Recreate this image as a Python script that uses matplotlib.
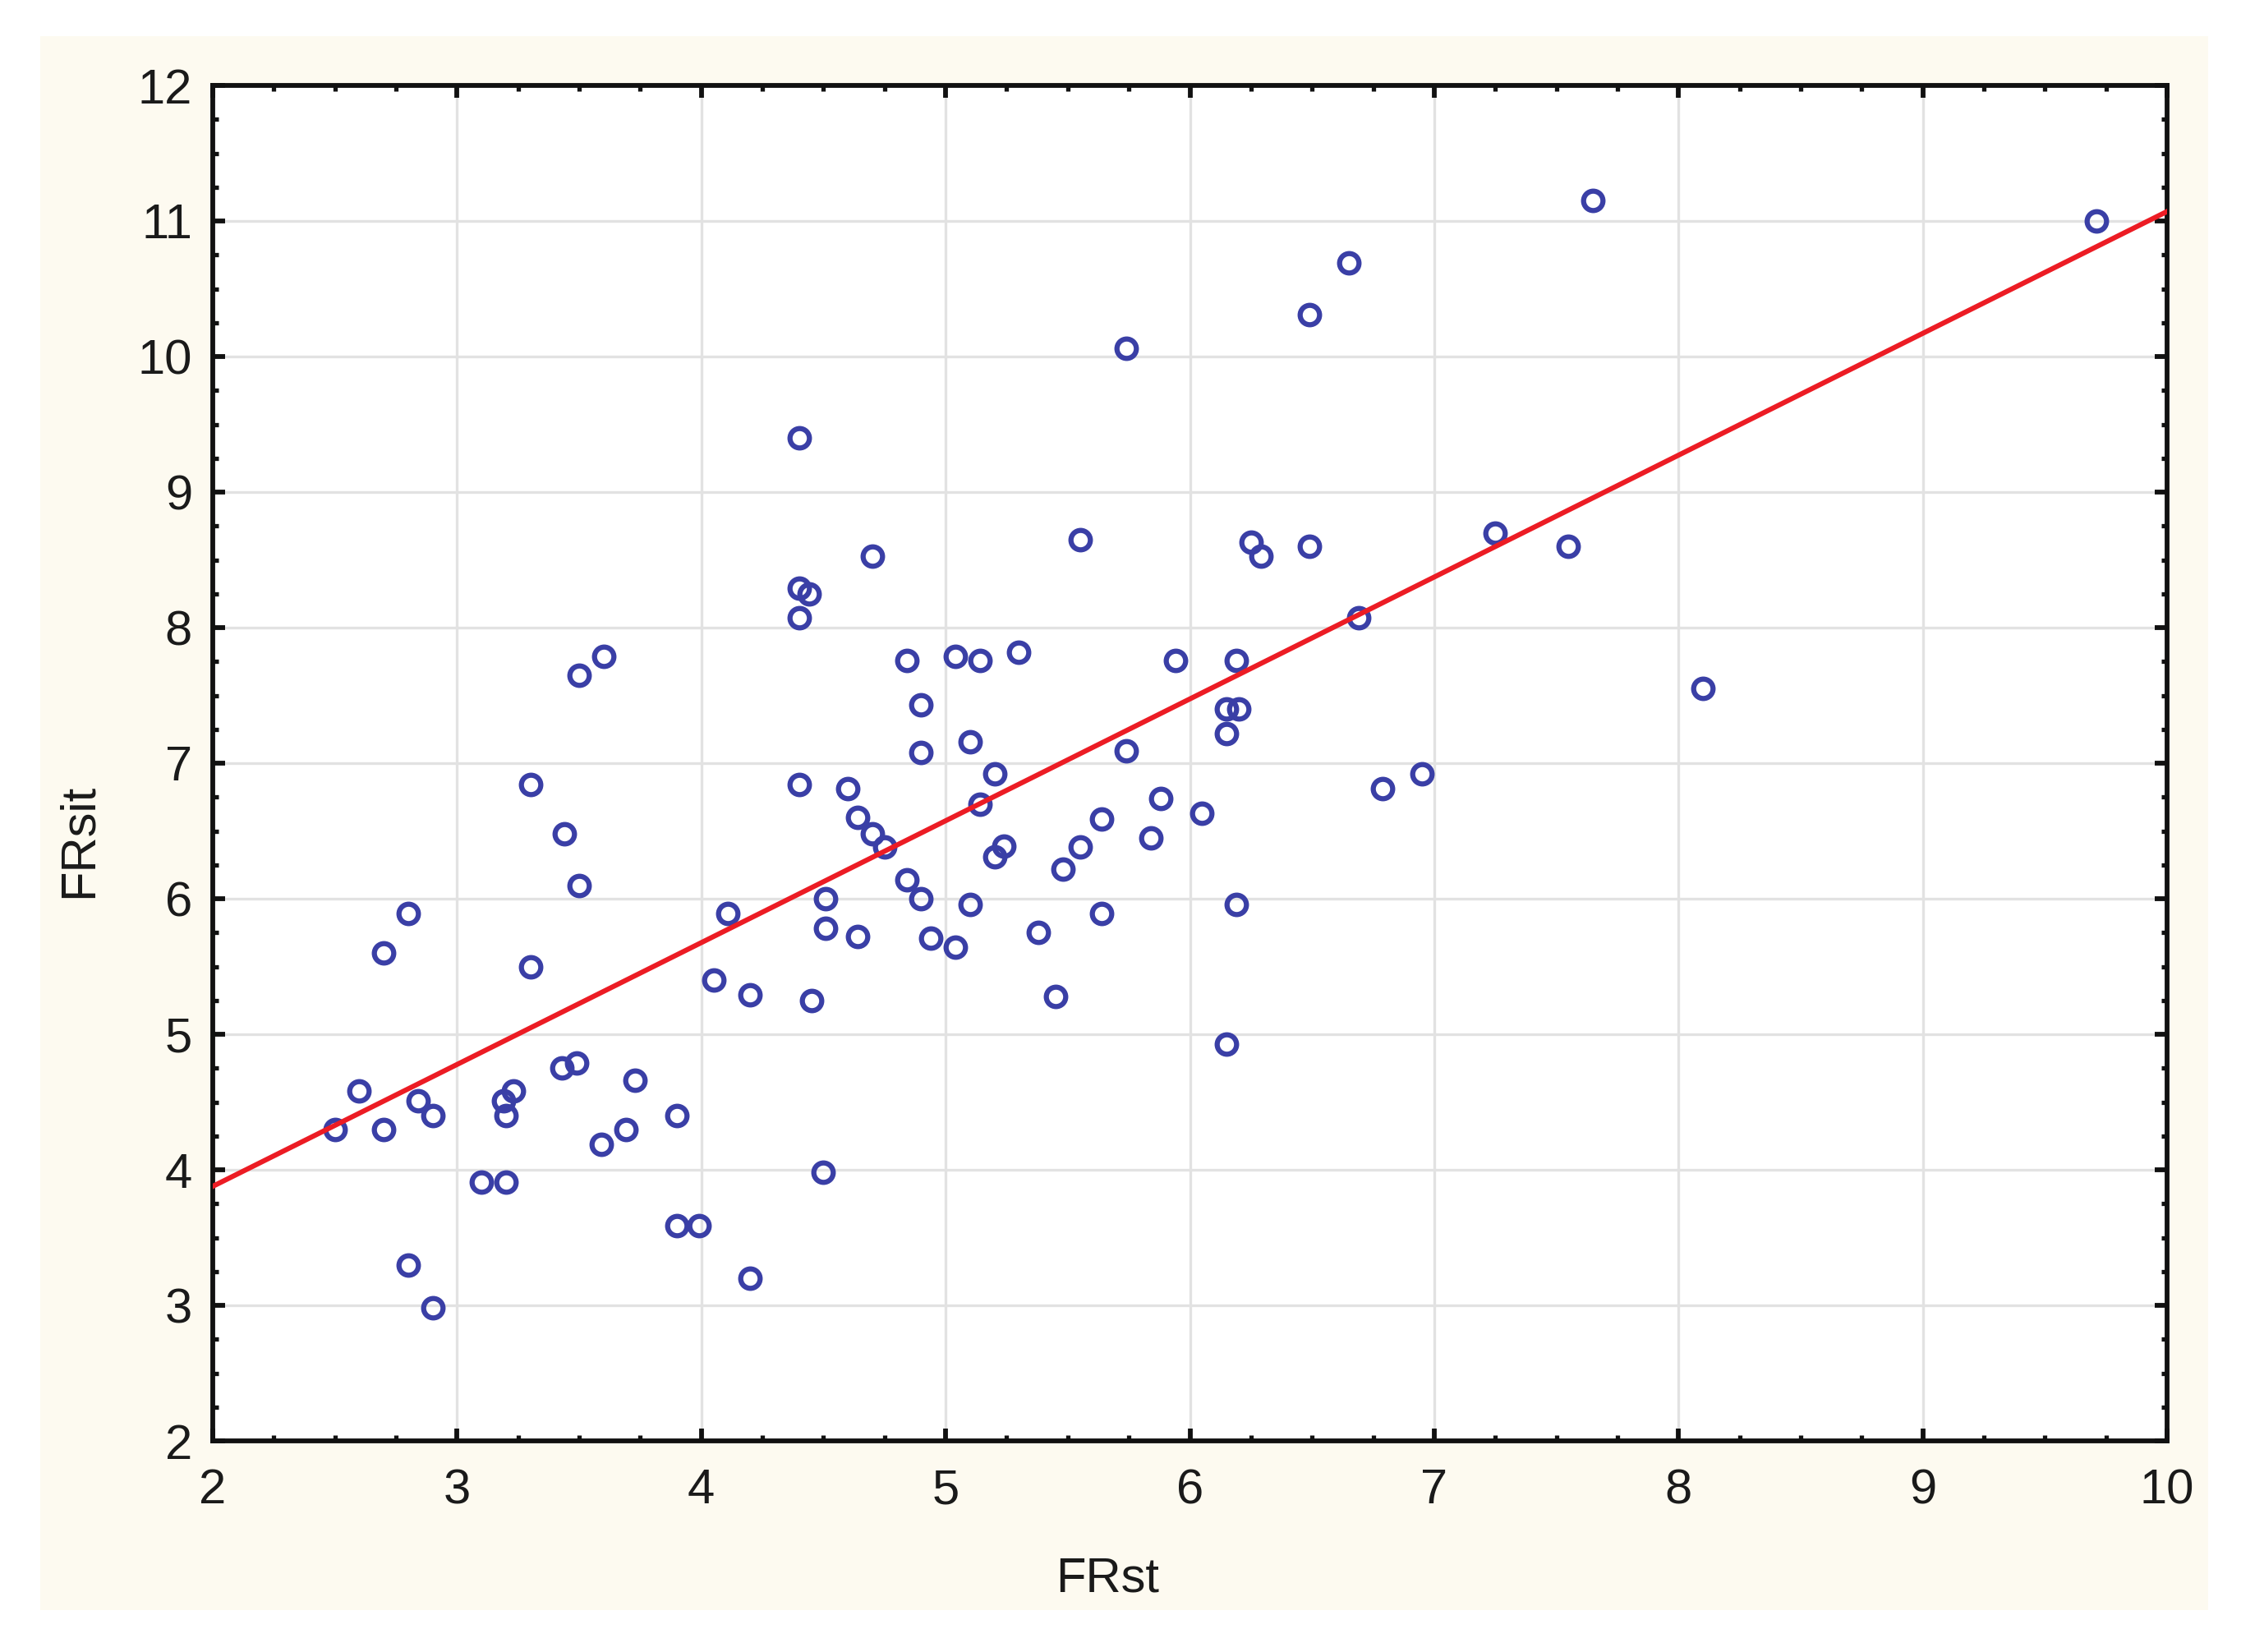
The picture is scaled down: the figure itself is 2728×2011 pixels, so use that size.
import numpy as np
import matplotlib
matplotlib.use("Agg")
import matplotlib.pyplot as plt
from matplotlib.patches import Rectangle
from matplotlib.ticker import MultipleLocator

# values (FRst vs FRsit)
fr_st = [2.5, 2.6, 2.7, 2.7, 2.8, 2.84, 2.9, 2.8, 2.9, 3.1,
         3.2, 3.19, 3.23, 3.2, 3.3, 3.3, 3.44, 3.43, 3.49, 3.5,
         3.5, 3.6, 3.59, 3.69, 3.73, 3.9, 3.9, 3.99, 4.05, 4.11,
         4.2, 4.2, 4.4, 4.4, 4.44, 4.4, 4.4, 4.45, 4.51, 4.51,
         4.5, 4.6, 4.64, 4.7, 4.75, 4.64, 4.7, 4.84, 4.84, 4.9,
         4.9, 4.9, 4.94, 5.04, 5.04, 5.1, 5.1, 5.14, 5.14, 5.2,
         5.2, 5.24, 5.3, 5.38, 5.45, 5.48, 5.55, 5.55, 5.64, 5.64,
         5.74, 5.74, 5.84, 5.88, 5.94, 6.05, 6.15, 6.2, 6.15, 6.19,
         6.19, 6.15, 6.25, 6.29, 6.49, 6.49, 6.65, 6.69, 6.79, 6.95,
         7.25, 7.55, 7.65, 8.1, 9.71]
fr_sit = [4.3, 4.58, 5.6, 4.3, 5.89, 4.51, 4.4, 3.3, 2.98, 3.91,
          3.91, 4.51, 4.58, 4.4, 5.5, 6.84, 6.48, 4.75, 4.79, 6.1,
          7.65, 7.79, 4.19, 4.3, 4.66, 4.4, 3.59, 3.59, 5.4, 5.89,
          5.29, 3.2, 9.4, 8.29, 8.25, 8.07, 6.84, 5.25, 6.0, 5.78,
          3.98, 6.81, 6.6, 6.48, 6.38, 5.72, 8.53, 7.76, 6.14, 7.43,
          7.08, 6.0, 5.71, 7.79, 5.64, 7.16, 5.96, 7.76, 6.7, 6.92,
          6.31, 6.39, 7.82, 5.75, 5.28, 6.22, 6.38, 8.65, 6.59, 5.89,
          10.06, 7.09, 6.45, 6.74, 7.76, 6.63, 7.4, 7.4, 7.22, 7.76,
          5.96, 4.93, 8.63, 8.53, 10.31, 8.6, 10.69, 8.07, 6.81, 6.92,
          8.7, 8.6, 11.15, 7.55, 11.0]

# regression line as drawn in the reference
fit_intercept = 2.08
fit_slope = 0.899

x_ticks = [2, 3, 4, 5, 6, 7, 8, 9, 10]
y_ticks = [2, 3, 4, 5, 6, 7, 8, 9, 10, 11, 12]

plt.rcParams['font.family'] = ['Liberation Sans', 'DejaVu Sans']

fig = plt.figure(figsize=(27.28, 20.11), dpi=100, facecolor='white')
# cream panel behind the chart
panel = Rectangle((49 / 2728, 1 - 1960 / 2011), (2688 - 49) / 2728,
                  (1960 - 44) / 2011, transform=fig.transFigure,
                  facecolor='#fdfaf0', edgecolor='none', zorder=-10)
fig.patches.append(panel)

ax = fig.add_axes([259 / 2728, 1 - 1754 / 2011, (2638 - 259) / 2728, (1754 - 104) / 2011])
ax.set_zorder(1)
ax.set_facecolor('white')

ax.plot(fr_st, fr_sit, linestyle='none', marker='o', markersize=17,
        markerfacecolor='none', markeredgecolor='#3a3fa6', markeredgewidth=4.5,
        zorder=2, clip_on=False)
ax.axline((0, fit_intercept), slope=fit_slope, color='#ec1c24', linewidth=4.4, zorder=3)

ax.set_xlim(2, 10)
ax.set_ylim(2, 12)
ax.set_xticks(x_ticks)
ax.set_yticks(y_ticks)
ax.xaxis.set_minor_locator(MultipleLocator(0.25))
ax.yaxis.set_minor_locator(MultipleLocator(0.25))

ax.grid(True, which='major', color='#e2e2e2', linewidth=2.4, zorder=1)
ax.set_axisbelow(True)

for s in ax.spines.values():
    s.set_linewidth(4.2)
    s.set_color('#111111')

ax.tick_params(which='both', direction='in', top=True, right=True,
               colors='#111111', labelcolor='#1a1a1a')
ax.tick_params(which='major', length=11, width=4.2, labelsize=43)
ax.tick_params(axis='x', which='major', pad=24)
ax.tick_params(axis='y', which='major', pad=18)
ax.tick_params(which='minor', length=5, width=3.8)

ax.set_xlabel('FRst', fontsize=43, color='#1a1a1a')
ax.set_ylabel('FRsit', fontsize=43, color='#1a1a1a')
ax.xaxis.label.set_va('center')
ax.yaxis.label.set_va('center')
ax.xaxis.set_label_coords(0.458, -0.102)
ax.yaxis.set_label_coords(-0.0685, 0.443)

fig.savefig('out.png', dpi=100, facecolor='white')
